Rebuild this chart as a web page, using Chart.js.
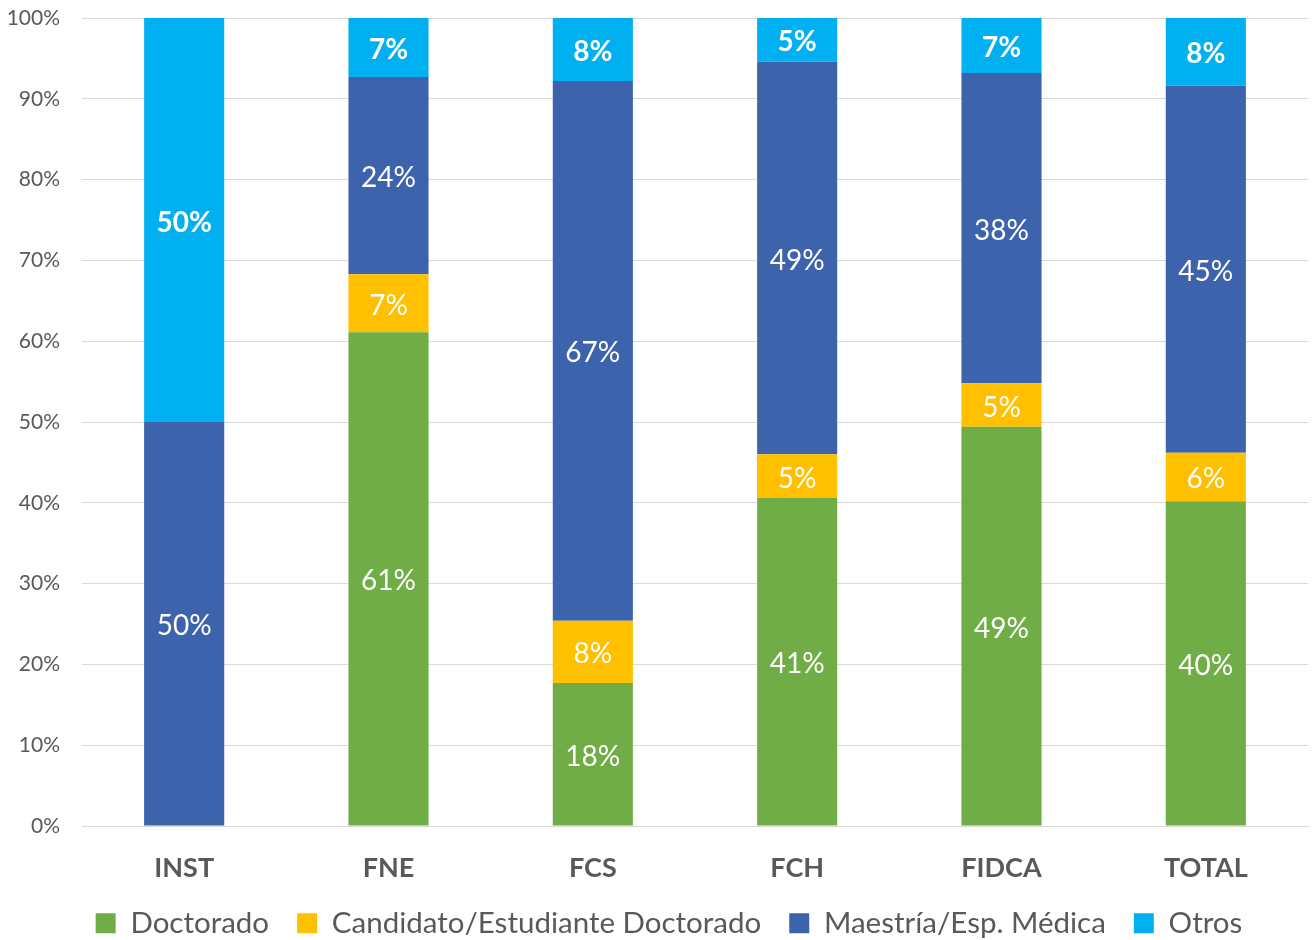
<!DOCTYPE html>
<html><head><meta charset="utf-8">
<script src="https://cdn.jsdelivr.net/npm/chart.js@4.4.1/dist/chart.umd.min.js"></script>
<style>html,body{margin:0;padding:0;background:#fff;overflow:hidden}#wrap{width:1314px;height:948px;position:relative}</style>
</head><body><div id="wrap"><canvas id="c"></canvas></div>
<script>
const categories = ['INST','FNE','FCS','FCH','FIDCA','TOTAL'];
const doctorado = [0, 61.1, 17.7, 40.6, 49.4, 40.2];
const candidato = [0, 7.2, 7.7, 5.4, 5.4, 6.0];
const maestria = [50, 24.4, 66.8, 48.6, 38.4, 45.4];
const otros = [50, 7.3, 7.8, 5.4, 6.8, 8.4];
const yTicks = ['0%','10%','20%','30%','40%','50%','60%','70%','80%','90%','100%'];

const FONT = "Lato, 'Open Sans', sans-serif";

const labelPlugin = {
  id: 'segLabels',
  afterDatasetsDraw(chart) {
    const ctx = chart.ctx;
    chart.data.datasets.forEach((ds, di) => {
      const meta = chart.getDatasetMeta(di);
      meta.data.forEach((bar, i) => {
        const v = ds.data[i];
        if (!v) return;
        const bold = ds.label === 'Otros';
        ctx.save();
        ctx.fillStyle = '#ffffff';
        ctx.font = (bold ? 'bold ' : '') + '28px ' + FONT;
        ctx.textAlign = 'center';
        ctx.textBaseline = 'middle';
        ctx.fillText(Math.round(v) + '%', bar.x, (bar.y + bar.base) / 2 + 2.5);
        ctx.restore();
      });
    });
  }
};

const legendShift = {
  id: 'legendShift',
  afterLayout(chart) {
    if (chart.legend) { chart.legend.left += 12; chart.legend.right += 12; }
  }
};

new Chart(document.getElementById('c'), {
  type: 'bar',
  data: {
    labels: categories,
    datasets: [
      {label: 'Doctorado', data: doctorado, backgroundColor: '#70AD47'},
      {label: 'Candidato/Estudiante Doctorado', data: candidato, backgroundColor: '#FFC000'},
      {label: 'Maestría/Esp. Médica', data: maestria, backgroundColor: '#3C63AC'},
      {label: 'Otros', data: otros, backgroundColor: '#00B0F0'}
    ]
  },
  options: {
    responsive: true,
    maintainAspectRatio: false,
    animation: false,
    layout: {padding: {left: 6, right: 6, top: 18, bottom: 0}},
    datasets: {bar: {barPercentage: 0.392, categoryPercentage: 1.0}},
    scales: {
      x: {
        stacked: true,
        grid: {display: false, drawTicks: false},
        border: {display: true, color: '#D9D9D9', width: 1},
        ticks: {color: '#595959', font: {family: FONT, size: 27, weight: 'bold'}, padding: 26},
        afterFit(axis) { axis.height = 54.5; }
      },
      y: {
        stacked: true,
        min: 0, max: 100,
        grid: {color: '#D9D9D9', lineWidth: 1, drawTicks: false},
        border: {display: false},
        ticks: {
          stepSize: 10,
          color: '#595959',
          font: {family: FONT, size: 21},
          padding: 22,
          callback: (v, i) => yTicks[i]
        },
        afterFit(axis) { axis.width = 76; axis.paddingTop = 0; axis.paddingBottom = 0; }
      }
    },
    plugins: {
      legend: {
        position: 'bottom',
        labels: {
          color: '#595959',
          font: {family: FONT, size: 29.5},
          boxWidth: 20, boxHeight: 20,
          padding: 28,
          useBorderRadius: false
        }
      },
      tooltip: {enabled: false}
    }
  },
  plugins: [labelPlugin, legendShift]
});
</script></body></html>
